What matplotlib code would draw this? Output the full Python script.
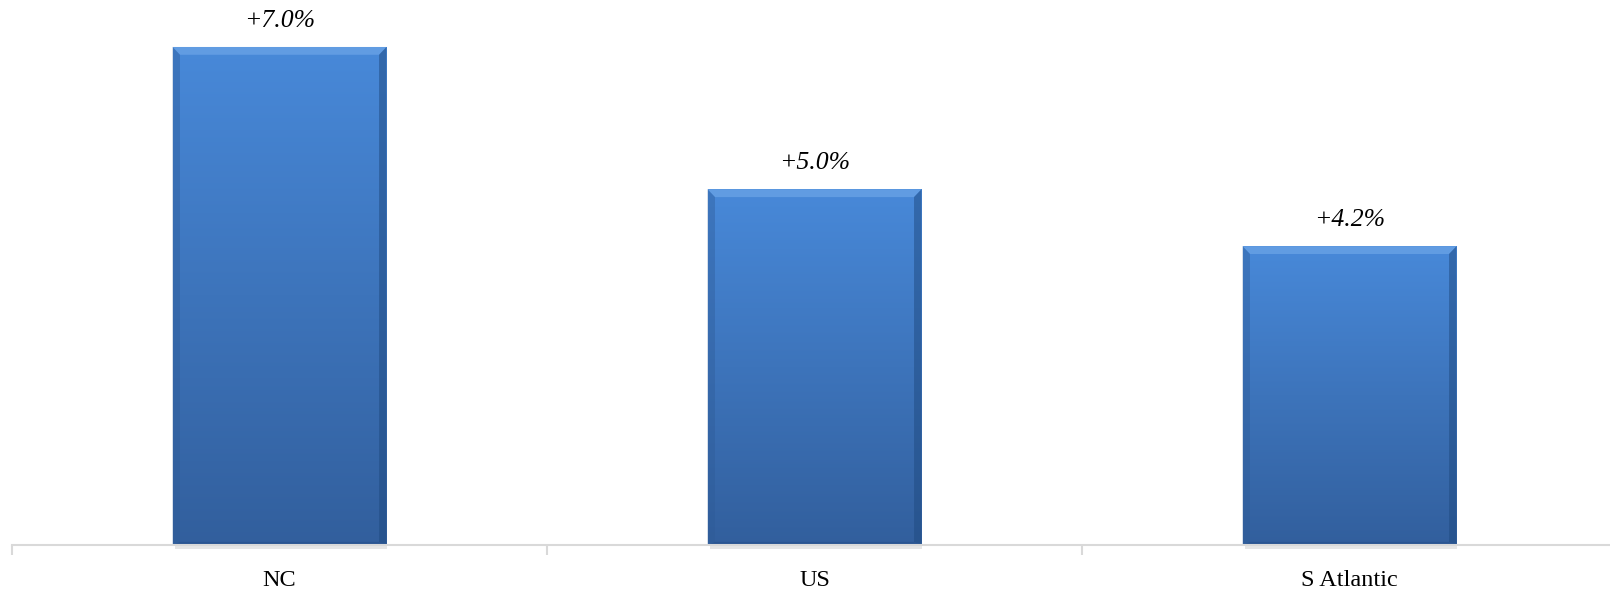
import numpy as np
import matplotlib
matplotlib.use('Agg')
import matplotlib.pyplot as plt
from matplotlib.patches import Rectangle, Polygon
from matplotlib.colors import to_rgb

# growth by region
regions = ['NC', 'US', 'S Atlantic']
growth = [7.0, 5.0, 4.2]

top_col = np.array(to_rgb('#4889d9'))
bot_col = np.array(to_rgb('#325f9d'))

plt.rcParams['font.family'] = ['Liberation Serif', 'DejaVu Serif']

fig = plt.figure(figsize=(16.1, 5.89), dpi=100)
ax = fig.add_axes([12 / 1610, 44 / 589, 1605 / 1610, 545 / 589])
ax.set_xlim(-0.5, len(regions) - 0.5)
ax.set_ylim(0, 7.66)

bar_w = 0.4
bx, by = 0.014, 0.11   # bevel size in data units

x = np.arange(len(regions))
for xi, val in zip(x, growth):
    x0, x1 = xi - bar_w / 2, xi + bar_w / 2

    # vertical gradient fill, clipped to the bar
    t = np.linspace(0, 1, 256)[:, None]
    grad = (top_col * (1 - t) + bot_col * t)[:, None, :].repeat(2, axis=1)
    rect = Rectangle((x0, 0), bar_w, val, facecolor='none', edgecolor='none')
    ax.add_patch(rect)
    im = ax.imshow(grad, extent=(x0, x1, 0, val), aspect='auto',
                   interpolation='bicubic', zorder=2)
    im.set_clip_path(rect)

    # bevel edges
    ax.add_patch(Polygon([(x0, val), (x1, val), (x1 - bx, val - by), (x0 + bx, val - by)],
                         closed=True, facecolor='#6aa3e6', edgecolor='none', alpha=0.75, zorder=3))
    ax.add_patch(Polygon([(x0, val), (x0 + bx, val - by), (x0 + bx, by * 0.4), (x0, 0)],
                         closed=True, facecolor='#2d5a96', edgecolor='none', alpha=0.4, zorder=3))
    ax.add_patch(Polygon([(x1, val), (x1 - bx, val - by), (x1 - bx, by * 0.4), (x1, 0)],
                         closed=True, facecolor='#1f4a80', edgecolor='none', alpha=0.5, zorder=3))
    ax.add_patch(Polygon([(x0, 0), (x1, 0), (x1 - bx, by * 0.4), (x0 + bx, by * 0.4)],
                         closed=True, facecolor='#264f88', edgecolor='none', alpha=0.5, zorder=3))

    # soft shadow under the bar
    ax.add_patch(Rectangle((x0 + 0.004, -0.06), bar_w - 0.004, 0.06, facecolor='#e6e6e6',
                           edgecolor='none', clip_on=False, zorder=1))

    ax.annotate(f'+{val:.1f}%', (xi, val), xytext=(0, 19), textcoords='offset points',
                ha='center', va='center', fontsize=18.5, style='italic', color='black')

for side in ['top', 'right', 'left']:
    ax.spines[side].set_visible(False)
ax.spines['bottom'].set_color('#d9d9d9')
ax.spines['bottom'].set_linewidth(1.5)
ax.spines['bottom'].set_zorder(4)

ax.set_yticks([])
ax.set_xticks(x)
ax.set_xticklabels(regions, fontsize=17.5)
ax.tick_params(axis='x', which='major', length=0, pad=18)
ax.set_xticks(np.arange(-0.5, len(regions)), minor=True)
ax.tick_params(axis='x', which='minor', length=7, width=1.5, color='#d9d9d9')

fig.savefig('out.png', dpi=100)
